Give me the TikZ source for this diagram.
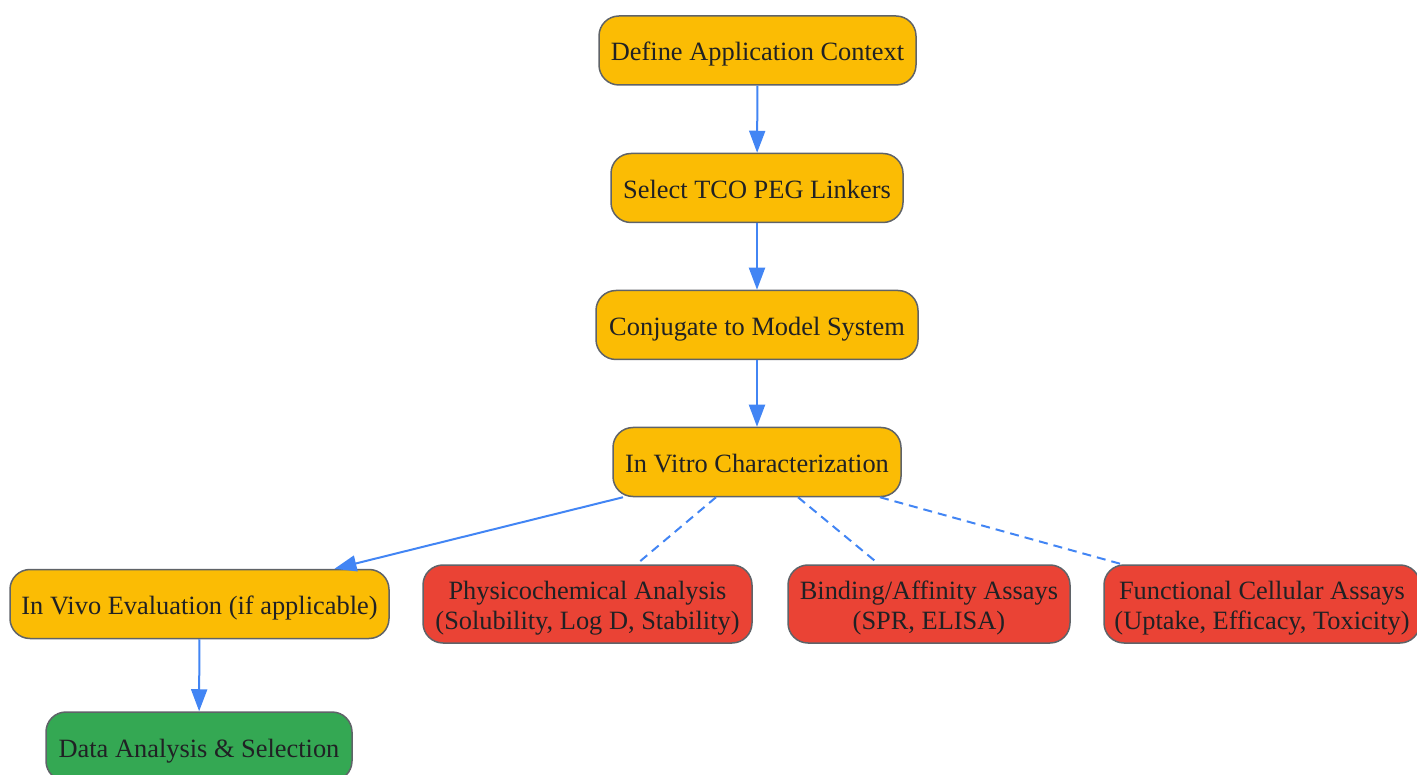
\documentclass[tikz,border=0pt]{standalone}
\usepackage{fontspec}
\setmainfont{Liberation Serif}
\usepackage{xcolor}
\usepackage{tikz}
\usetikzlibrary{arrows.meta,calc}

\definecolor{stepyellow}{HTML}{FBBC04}
\definecolor{assayred}{HTML}{EA4335}
\definecolor{donegreen}{HTML}{34A853}
\definecolor{linkblue}{HTML}{4285F4}
\definecolor{rimgray}{HTML}{5F6368}
\definecolor{inkgray}{HTML}{202124}

\tikzset{
  box/.style={draw=rimgray,line width=1.5pt,rounded corners=20pt,
    align=center,text=inkgray,inner sep=0pt,minimum height=69pt,
    text height=25pt,text depth=4pt,
    font=\fontsize{26.4}{30}\selectfont},
  stage/.style={box,fill=stepyellow},
  assay/.style={box,fill=assayred,minimum height=78pt,
    text height=55pt,text depth=4pt},
  result/.style={box,fill=donegreen},
  flow/.style={draw=linkblue,line width=2pt,
    -{Triangle[length=22pt,width=16pt]}},
  link/.style={draw=linkblue,line width=2pt,dash pattern=on 9pt off 6pt}
}

\begin{document}
\begin{tikzpicture}[x=1pt,y=-1pt]
    \useasboundingbox (0,0) rectangle (1417,775);

    \node[stage,minimum width=317pt] (ctx) at (757.5,50.5) {Define Application Context};
    \node[stage,minimum width=292pt] (pick) at (757,188) {Select TCO PEG Linkers};
    \node[stage,minimum width=322pt] (conj) at (757,325) {Conjugate to Model System};
    \node[stage,minimum width=288pt] (vitro) at (757,462) {In Vitro Characterization};

    \node[stage,minimum width=379pt] (vivo) at (199.5,604) {In Vivo Evaluation (if applicable)};
    \node[assay,minimum width=329pt] (phys) at (587.5,604) {Physicochemical Analysis\\(Solubility, Log D, Stability)};
    \node[assay,minimum width=282pt] (bind) at (929,604) {Binding/Affinity Assays\\(SPR, ELISA)};
    \node[assay,minimum width=316pt] (func) at (1262,604) {Functional Cellular Assays\\(Uptake, Efficacy, Toxicity)};

    \node[result,minimum width=306pt] (data) at (199,746.5) {Data Analysis \& Selection};

    \draw[flow] (ctx) -- (pick);
    \draw[flow] (pick) -- (conj);
    \draw[flow] (conj) -- (vitro);
    \draw[flow] ([xshift=-134pt]vitro.south) -- ([xshift=135pt]vivo.north);
    \draw[link,shorten >=3pt] ([xshift=-41pt]vitro.south) -- ([xshift=49pt]phys.north);
    \draw[link,shorten >=3pt] ([xshift=41pt]vitro.south) -- ([xshift=-50pt]bind.north);
    \draw[link,shorten >=2pt] ([xshift=123pt]vitro.south) -- ([xshift=-140pt]func.north);
    \draw[flow] (vivo) -- (data);
\end{tikzpicture}
\end{document}
